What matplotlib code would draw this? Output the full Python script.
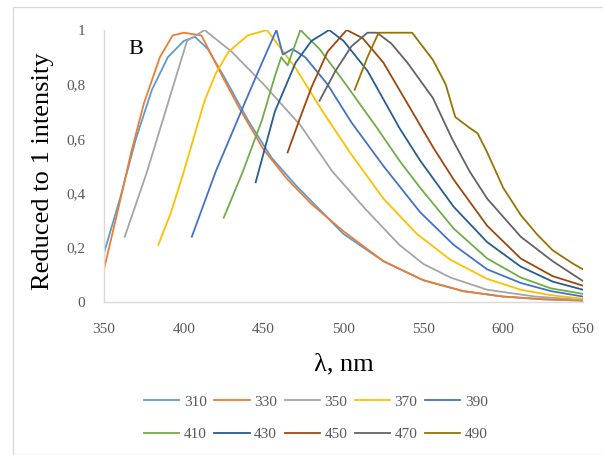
import matplotlib
matplotlib.use("Agg")
import matplotlib.pyplot as plt
from matplotlib.patches import Rectangle

# ---- data ----
labels = ["310", "330", "350", "370", "390", "410", "430", "450", "470", "490"]
colors = ["#5B9BD5", "#ED7D31", "#A5A5A5", "#FFC000", "#4472C4",
          "#70AD47", "#255E91", "#9E480E", "#636363", "#997300"]

s310_x = [350, 360, 370, 380, 390, 400, 407, 415, 425, 440, 455, 470, 485, 500, 525, 550, 575, 600, 625, 650]
s310_y = [0.18, 0.38, 0.60, 0.78, 0.90, 0.96, 0.975, 0.93, 0.83, 0.67, 0.53, 0.43, 0.34, 0.25, 0.15, 0.08, 0.04, 0.02, 0.01, 0.005]

s330_x = [350, 360, 367, 375, 385, 393, 400, 411, 418, 425, 435, 450, 465, 480, 500, 525, 550, 575, 600, 625, 650]
s330_y = [0.12, 0.37, 0.55, 0.73, 0.90, 0.98, 0.99, 0.98, 0.90, 0.82, 0.71, 0.56, 0.45, 0.36, 0.26, 0.15, 0.08, 0.04, 0.02, 0.01, 0.005]

s350_x = [363, 370, 377, 390, 402, 413, 430, 450, 473, 493, 514, 535, 550, 567, 590, 620, 650]
s350_y = [0.24, 0.36, 0.48, 0.73, 0.96, 1.0, 0.92, 0.80, 0.65, 0.48, 0.34, 0.21, 0.14, 0.09, 0.045, 0.02, 0.008]

s370_x = [384, 392, 400, 413, 420, 428, 440, 452, 470, 487, 504, 525, 546, 567, 590, 611, 630, 650]
s370_y = [0.21, 0.33, 0.48, 0.74, 0.84, 0.92, 0.98, 1.0, 0.86, 0.70, 0.55, 0.38, 0.25, 0.155, 0.085, 0.045, 0.025, 0.012]

s390_x = [405, 420, 438, 449, 458, 462, 468, 476, 490, 505, 525, 548, 569, 590, 611, 630, 650]
s390_y = [0.24, 0.48, 0.73, 0.88, 1.0, 0.91, 0.93, 0.90, 0.80, 0.66, 0.50, 0.33, 0.21, 0.12, 0.07, 0.04, 0.02]

s410_x = [425, 437, 449, 457, 461, 465, 473, 485, 499, 521, 535, 548, 569, 590, 611, 630, 650]
s410_y = [0.31, 0.48, 0.67, 0.83, 0.90, 0.87, 1.0, 0.93, 0.82, 0.64, 0.52, 0.42, 0.27, 0.16, 0.09, 0.05, 0.03]

s430_x = [445, 457, 470, 480, 491, 500, 515, 535, 548, 569, 590, 611, 631, 650]
s430_y = [0.44, 0.70, 0.88, 0.96, 1.0, 0.96, 0.85, 0.64, 0.52, 0.35, 0.22, 0.13, 0.075, 0.045]

s450_x = [465, 473, 480, 490, 502, 512, 525, 540, 556, 569, 590, 611, 631, 650]
s450_y = [0.55, 0.68, 0.79, 0.92, 1.0, 0.97, 0.88, 0.73, 0.57, 0.45, 0.28, 0.16, 0.095, 0.06]

s470_x = [485, 495, 505, 515, 521, 530, 540, 556, 568, 579, 590, 611, 631, 650]
s470_y = [0.74, 0.85, 0.94, 0.99, 0.99, 0.95, 0.88, 0.75, 0.60, 0.48, 0.38, 0.24, 0.15, 0.077]

s490_x = [507, 515, 522, 530, 543, 556, 564, 570, 579, 584, 590, 600, 611, 621, 631, 644, 650]
s490_y = [0.78, 0.90, 0.99, 0.99, 0.99, 0.89, 0.80, 0.68, 0.64, 0.62, 0.55, 0.42, 0.32, 0.25, 0.19, 0.14, 0.12]

series_x = [s310_x, s330_x, s350_x, s370_x, s390_x, s410_x, s430_x, s450_x, s470_x, s490_x]
series_y = [s310_y, s330_y, s350_y, s370_y, s390_y, s410_y, s430_y, s450_y, s470_y, s490_y]

x_ticks = [350, 400, 450, 500, 550, 600, 650]
y_ticks = [0, 0.2, 0.4, 0.6, 0.8, 1.0]
y_ticklabels = ["0", "0,2", "0,4", "0,6", "0,8", "1"]

# ---- figure ----
plt.rcParams['font.family'] = ['Liberation Serif', 'DejaVu Serif']
fig = plt.figure(figsize=(6.03, 4.55), dpi=100)
fig.patch.set_facecolor("white")
fig.patches.append(Rectangle((13 / 603, 0.0), 1.0, 1 - 7 / 455, transform=fig.transFigure,
                             fill=False, edgecolor="#D9D9D9", linewidth=1.0))

ax = fig.add_axes([104 / 603, 1 - 302 / 455, (583 - 104) / 603, (302 - 30) / 455])
handles = []
for xs, ys, c, lab in zip(series_x, series_y, colors, labels):
    h, = ax.plot(xs, ys, color=c, lw=1.3, label=lab)
    handles.append(h)

ax.set_xlim(350, 650)
ax.set_ylim(0, 1)
ax.set_xticks(x_ticks)
ax.set_yticks(y_ticks)
ax.set_yticklabels(y_ticklabels)
ax.tick_params(axis="both", length=0, labelsize=11, colors="#595959")
ax.tick_params(axis="x", pad=15)
ax.tick_params(axis="y", pad=13.5)
for s in ["top", "right"]:
    ax.spines[s].set_visible(False)
for s in ["left", "bottom"]:
    ax.spines[s].set_color("#D9D9D9")
    ax.spines[s].set_linewidth(1.0)

ax.set_ylabel("Reduced to 1 intensity", fontsize=19, color="black")
ax.yaxis.set_label_coords(-0.105, 0.48)
fig.text(344 / 603, 1 - 364 / 455, "λ, nm", fontsize=19, color="black",
         ha="center", va="center")
ax.text(0.05, 0.93, "B", transform=ax.transAxes, fontsize=16, color="black",
        ha="left", va="center")

# legend filled row by row (5 per row)
order = [0, 5, 1, 6, 2, 7, 3, 8, 4, 9]
leg = fig.legend([handles[i] for i in order], [labels[i] for i in order],
                 loc="center", bbox_to_anchor=(316 / 603, 1 - 418 / 455), ncol=5,
                 frameon=False, fontsize=11, handlelength=2.3, handletextpad=0.3,
                 columnspacing=0.5, labelspacing=1.2)
for t in leg.get_texts():
    t.set_color("#595959")

fig.savefig("out.png", dpi=100, facecolor="white")
